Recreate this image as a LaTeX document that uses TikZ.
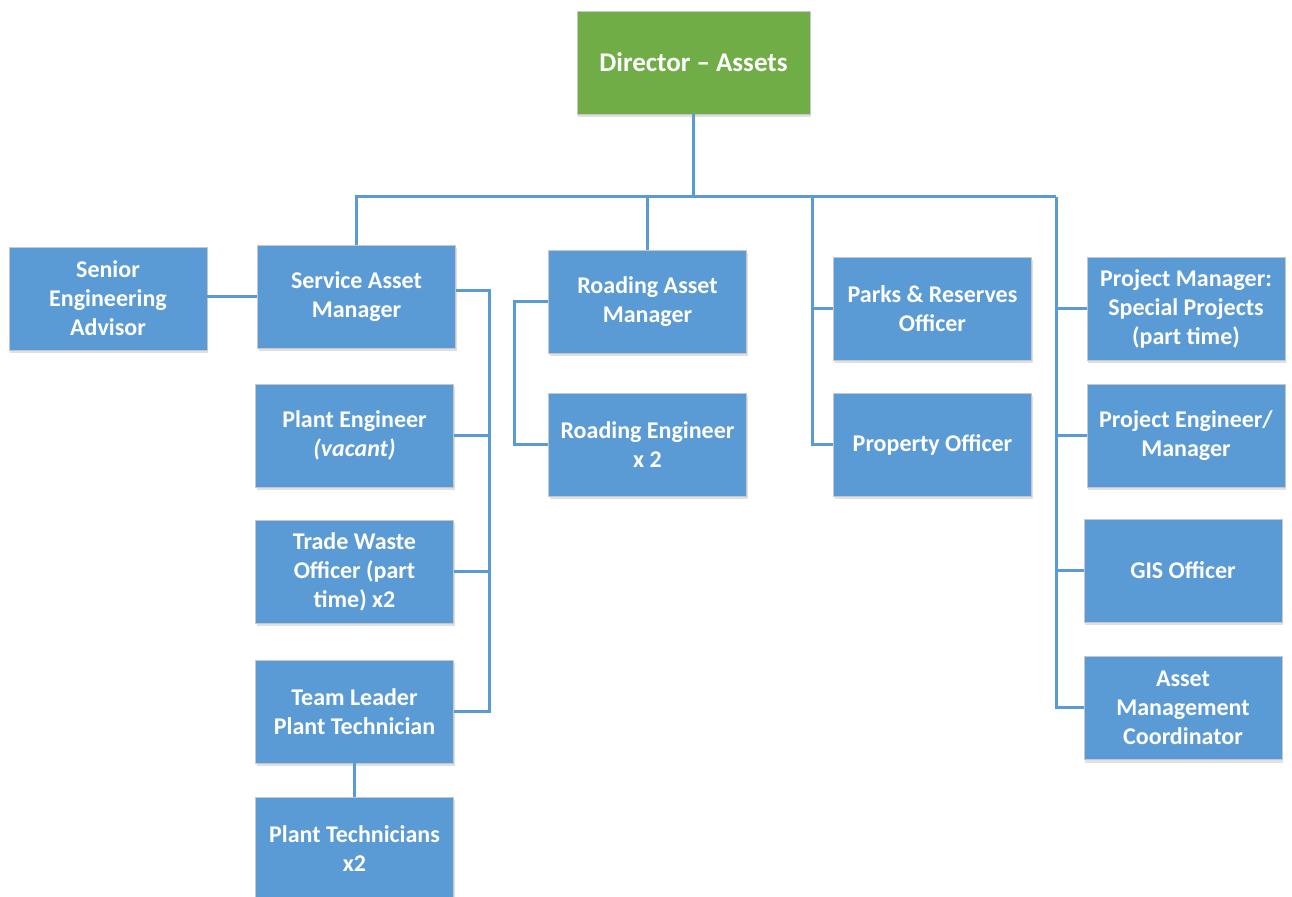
\documentclass[tikz,border=0pt]{standalone}
\usepackage{fontspec}
\setmainfont{Carlito}
\usetikzlibrary{shadows}

\definecolor{boxblue}{HTML}{5B9BD5}
\definecolor{boxgreen}{HTML}{70AD47}

\begin{document}
\begin{tikzpicture}[x=0.5pt, y=-0.5pt,
    post/.style={rectangle, fill=boxblue, draw=black!22, line width=0.4pt,
        text=white, align=center, inner sep=0pt,
        minimum width=99pt, minimum height=51.5pt,
        font=\bfseries\fontsize{12}{14.5}\selectfont,
        drop shadow={shadow xshift=0.6pt, shadow yshift=-1.6pt, opacity=0.12, fill=black}},
    head/.style={post, fill=boxgreen, minimum width=116.5pt,
        font=\bfseries\fontsize{13.5}{16}\selectfont},
    link/.style={draw=boxblue, line width=1.5pt},
]

\useasboundingbox (0,0) rectangle (1292,897);

\node[head] (dir) at (693.5,62.5) {Director -- Assets};

\node[post] (sea) at (108,298.5) {Senior\\Engineering\\Advisor};
\node[post] (sam) at (356.5,296.5) {Service Asset\\Manager};
\node[post] (pen) at (354.5,435.5) {Plant Engineer\\\textit{(vacant)}};
\node[post] (two) at (354.5,571.5) {Trade Waste\\Officer (part\\time) x2};
\node[post] (tl) at (354.5,711.5) {Team Leader\\Plant Technician};
\node[post] (pt) at (354.5,848.5) {Plant Technicians\\x2};

\node[post] (ram) at (647.5,301.5) {Roading Asset\\Manager};
\node[post] (re) at (647.5,444.5) {Roading Engineer\\x 2};

\node[post] (prk) at (932.5,308.5) {Parks \& Reserves\\Officer};
\node[post] (pro) at (932.5,444.5) {Property Officer};

\node[post] (pm) at (1186,308.5) {Project Manager:\\Special Projects\\(part time)};
\node[post] (pje) at (1186,435.5) {Project Engineer/\\Manager};
\node[post] (gis) at (1183,570.5) {GIS Officer};
\node[post] (amc) at (1183,708) {Asset\\Management\\Coordinator};

% bus lines
\coordinate (parksbus) at (812,197);
\coordinate (projbus) at (1056,197);
\coordinate (servbus) at (489,291);

\draw[link] (dir.south) -- (dir.south |- projbus);
\draw[link] (sam.north) |- (projbus);
\draw[link] (ram.north) -- (ram.north |- projbus);

% service
\draw[link] (sam.west) -- (sam.west -| sea.east);
\draw[link] (sam.east |- servbus) -- (servbus) |- (tl.east);
\draw[link] (pen.east) -- (pen.east -| servbus);
\draw[link] (two.east) -- (two.east -| servbus);
\draw[link] (tl.south) -- (pt.north);

% roading
\draw[link] (ram.west) -- ++(-34,0) |- (re.west);

% parks
\draw[link] (parksbus) |- (pro.west);
\draw[link] (parksbus |- prk.west) -- (prk.west);

% projects
\draw[link] (projbus) |- (amc.west);
\draw[link] (projbus |- pm.west) -- (pm.west);
\draw[link] (projbus |- pje.west) -- (pje.west);
\draw[link] (projbus |- gis.west) -- (gis.west);

\end{tikzpicture}
\end{document}
